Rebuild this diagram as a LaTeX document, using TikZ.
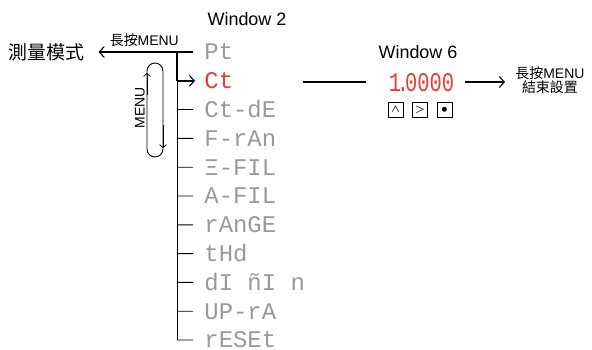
\documentclass[tikz,border=0pt]{standalone}
\usepackage{fontspec}
\usepackage{graphicx}
\setmainfont{Liberation Sans}
\newfontfamily\cjk{Noto Sans CJK TC}
\newfontfamily\segfont{Liberation Mono}
\usetikzlibrary{arrows.meta}
\definecolor{seggray}{HTML}{999999}
\definecolor{segred}{HTML}{EC3A36}
\tikzset{
  seg/.style={anchor=west,inner sep=0pt,text height=16pt,text depth=0pt,
    font=\segfont\fontsize{24}{24}\selectfont,text=seggray},
  segon/.style={seg,text=segred},
  heavy/.style={line width=1.7pt},
  barb/.style={-{Straight Barb[length=5pt,width=11pt,line width=1.1pt]}},
  smallbarb/.style={-{Straight Barb[length=3pt,width=7pt,line width=.7pt]}},
  keybox/.style={draw,line width=.7pt,minimum size=15pt,inner sep=0pt,
    font=\fontsize{11}{11}\selectfont\boldmath}
}

\begin{document}
\begin{tikzpicture}
[x=1bp,y=-1bp,line width=.9pt]
\useasboundingbox (0,0) rectangle (592,349);

\node (w2) at (247,19) {\fontsize{18}{18}\selectfont Window 2};
\node[anchor=west,inner sep=0pt] (mode) at (8,52) {\cjk\fontsize{19}{19}\selectfont 測量模式};

\node[seg] (s0) at (204,52) {Pt};
\node[segon] (s1) at (204,80.8) {Ct};
\node[seg] (s2) at (204,109.6) {Ct-dE};
\node[seg] (s3) at (204,138.4) {F-rAn};
\node[seg] (s4) at (204,167.2) {Ξ-FIL};
\node[seg] (s5) at (204,196) {A-FIL};
\node[seg] (s6) at (204,224.8) {rAnGE};
\node[seg] (s7) at (204,253.6) {tHd};
\node[seg] (s8) at (204,282.4) {dI ñI n};
\node[seg] (s9) at (204,311.2) {UP-rA};
\node[seg] (s10) at (204,340) {rESEt};

\foreach \i in {0,...,10}
\coordinate (b\i) at (177,{52+28.8*\i});

% trunk and branches
\draw (b1) -- (b10);
\foreach \i in {2,...,10}
\draw[shorten >=11pt] (b\i) -- (s\i.west);
\draw[heavy] (b0) -- (b1);
\draw[heavy,barb,shorten >=9pt] (b1) -- (s1.west);
\draw[heavy,barb,shorten <=11pt,shorten >=14pt] (s0.west) -- (s0.west -| mode.east)
  node[midway,above=1pt] {\fontsize{14}{14}\selectfont{\cjk 長按}MENU};

% MENU loop
\draw[rounded corners=8bp] (147,63) rectangle (163,157);
\draw[smallbarb] (147,95) -- (147,73);
\draw[smallbarb] (163,125) -- (163,148);
\node[rotate=90] (menu) at (140,108) {\fontsize{14}{14}\selectfont MENU};

% Window 6
\node (w6) at (418,52) {\fontsize{18}{18}\selectfont Window 6};
\node[segon,anchor=center,text height=20pt,font=\segfont\fontsize{27}{27}\selectfont] (val) at (421.5,82)
  {\scalebox{.76}[1]{1\kern-.2em.\kern-.2em0000}};
\coordinate (w6in) at (303,82);
\node[anchor=west,align=center,inner sep=0pt] (quit) at (515,80)
  {\fontsize{14}{17}\selectfont{\cjk 長按}MENU\\\cjk\fontsize{14}{17}\selectfont 結束設置};
\draw[heavy,shorten >=22pt] (w6in) -- (val.west);
\draw[heavy,barb,shorten <=10pt,shorten >=10pt] (val.east) -- (val.east -| quit.west);

\node[keybox] (kup) at (395.5,109.5) {$\wedge$};
\node[keybox] (kright) at (420,109.5) {$>$};
\node[keybox] (kset) at (444.5,109.5) {$\bullet$};
\end{tikzpicture}
\end{document}
